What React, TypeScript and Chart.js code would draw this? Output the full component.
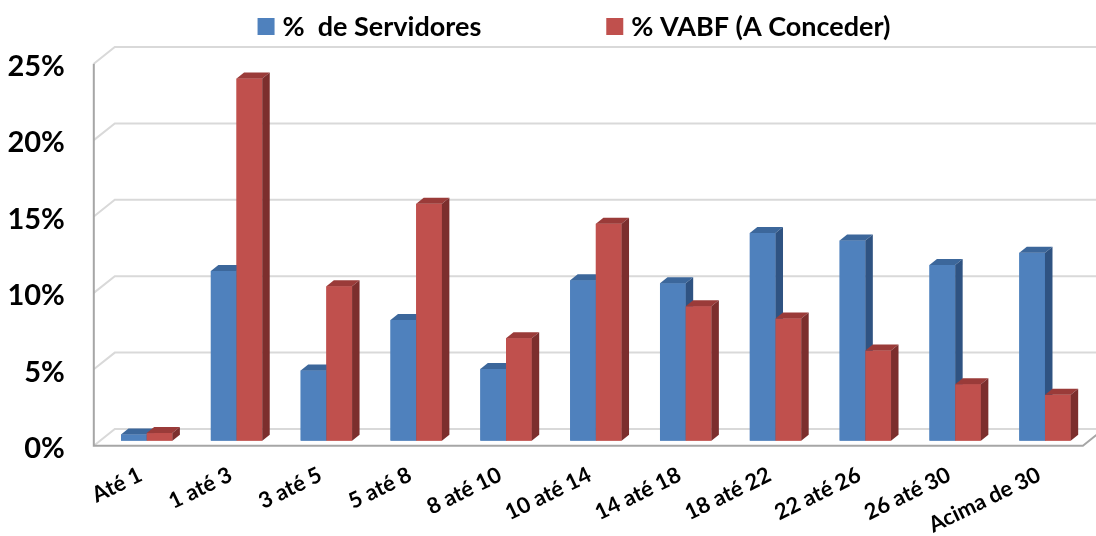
import React, { useEffect, useRef } from "react";
import { Chart, registerables } from "chart.js";

Chart.register(...registerables);

const categories = [
  "Até 1",
  "1 até 3",
  "3 até 5",
  "5 até 8",
  "8 até 10",
  "10 até 14",
  "14 até 18",
  "18 até 22",
  "22 até 26",
  "26 até 30",
  "Acima de 30",
];
const servidores = [0.4, 11.1, 4.6, 7.9, 4.7, 10.5, 10.3, 13.6, 13.1, 11.5, 12.3];
const vabf = [0.5, 23.7, 10.1, 15.5, 6.7, 14.2, 8.8, 8.0, 5.9, 3.7, 3.0];
const yTicks = [0, 5, 10, 15, 20, 25];
const seriesLabels = ["%  de Servidores", "% VABF (A Conceder)"];

const FONT = "Lato, 'Open Sans', sans-serif";

const faces = [
  { front: "#4F81BD", top: "#3C679B", side: "#2F5382" },
  { front: "#C0504D", top: "#9A3B39", side: "#7C2E2D" },
];

const BAR_DX = 7.5;
const BAR_DY = 6;
const WALL_DX = 21;
const FRONT_OFF = 5;
const BACK_OFF = 11.7;

const framePlugin = {
  id: "frame3d",
  beforeDatasetsDraw(chart: any) {
    const { ctx, chartArea } = chart;
    const y = chart.scales.y;
    const wallX = chartArea.left - 8;
    const backX = wallX + WALL_DX;
    const floorRight = chartArea.right - 7;
    ctx.save();
    ctx.lineWidth = 2;
    ctx.strokeStyle = "#d9d9d9";
    y.ticks.forEach((t: any) => {
      const py = y.getPixelForValue(t.value);
      ctx.beginPath();
      ctx.moveTo(wallX, py + FRONT_OFF);
      ctx.lineTo(backX, py - BACK_OFF);
      ctx.lineTo(chart.width, py - BACK_OFF);
      ctx.stroke();
    });
    const p0 = y.getPixelForValue(0);
    const pTop = y.getPixelForValue(y.max);
    ctx.strokeStyle = "#a6a6a6";
    ctx.beginPath();
    ctx.moveTo(wallX, pTop + FRONT_OFF);
    ctx.lineTo(wallX, p0 + FRONT_OFF);
    ctx.lineTo(floorRight, p0 + FRONT_OFF);
    ctx.lineTo(floorRight + WALL_DX, p0 + FRONT_OFF - (FRONT_OFF + BACK_OFF));
    ctx.stroke();
    ctx.restore();
  },
  afterDatasetsDraw(chart: any) {
    const { ctx } = chart;
    const n = chart.data.labels.length;
    ctx.save();
    for (let i = 0; i < n; i++) {
      chart.data.datasets.forEach((_ds: any, di: number) => {
        const meta = chart.getDatasetMeta(di);
        const el = meta.data[i];
        if (!el) return;
        const { x, y: top, base, width } = el.getProps(["x", "y", "base", "width"], true);
        const x0 = x - width / 2;
        const x1 = x + width / 2;
        const f = faces[di];
        ctx.fillStyle = f.front;
        ctx.fillRect(x0, top, width, base - top);
        ctx.fillStyle = f.top;
        ctx.beginPath();
        ctx.moveTo(x0, top);
        ctx.lineTo(x1, top);
        ctx.lineTo(x1 + BAR_DX, top - BAR_DY);
        ctx.lineTo(x0 + BAR_DX, top - BAR_DY);
        ctx.closePath();
        ctx.fill();
        ctx.fillStyle = f.side;
        ctx.beginPath();
        ctx.moveTo(x1, top);
        ctx.lineTo(x1 + BAR_DX, top - BAR_DY);
        ctx.lineTo(x1 + BAR_DX, base - BAR_DY);
        ctx.lineTo(x1, base);
        ctx.closePath();
        ctx.fill();
      });
    }
    ctx.restore();
  },
};

const legendPlugin = {
  id: "customLegend",
  afterDraw(chart: any) {
    const { ctx } = chart;
    ctx.save();
    ctx.font = `bold 27px ${FONT}`;
    ctx.textBaseline = "middle";
    ctx.textAlign = "left";
    const box = 17;
    const gapText = 8;
    const gapItem = 125;
    const items = chart.data.datasets.map((ds: any, i: number) => ({
      label: ds.label,
      color: faces[i].front,
      w: ctx.measureText(ds.label).width,
    }));
    const total =
      items.reduce((s: number, it: any) => s + box + gapText + it.w, 0) + gapItem * (items.length - 1);
    let x = 574 - total / 2;
    const cy = 26.5;
    items.forEach((it: any) => {
      ctx.fillStyle = it.color;
      ctx.fillRect(x, cy - box / 2, box, box);
      ctx.fillStyle = "#000";
      ctx.fillText(it.label, x + box + gapText, cy + 1);
      x += box + gapText + it.w + gapItem;
    });
    ctx.restore();
  },
};

export default function App() {
  const ref = useRef<HTMLCanvasElement | null>(null);
  useEffect(() => {
    if (!ref.current) return;
    const chart = new Chart(ref.current, {
      type: "bar",
      data: {
        labels: categories,
        datasets: [
          { label: seriesLabels[0], data: servidores, backgroundColor: faces[0].front },
          { label: seriesLabels[1], data: vabf, backgroundColor: faces[1].front },
        ],
      },
      options: {
        responsive: false,
        animation: false,
        layout: { padding: { top: 58.7, right: 6.1, left: 0, bottom: 0 } },
        datasets: { bar: { categoryPercentage: 0.572, barPercentage: 1 } } as any,
        plugins: {
          legend: { display: false },
          tooltip: { enabled: false },
        },
        scales: {
          x: {
            grid: { display: false },
            border: { display: false },
            afterFit: (s: any) => {
              s.height = 95.3;
            },
            ticks: {
              autoSkip: false,
              minRotation: 26,
              maxRotation: 26,
              padding: 13,
              labelOffset: -6,
              color: "#000",
              font: { family: FONT, size: 22, weight: "bold" },
            },
          },
          y: {
            min: 0,
            max: 25,
            grid: { display: false },
            border: { display: false },
            afterFit: (s: any) => {
              s.width = 101.8;
            },
            afterBuildTicks: (s: any) => {
              s.ticks = yTicks.map((v) => ({ value: v }));
            },
            ticks: {
              padding: 29,
              labelOffset: 8,
              color: "#000",
              font: { family: FONT, size: 29, weight: "bold" },
              callback: (v: any) => `${v}%`,
            },
          },
        },
      },
      plugins: [framePlugin, legendPlugin],
    });
    return () => chart.destroy();
  }, []);
  return (
    <div style={{ position: "absolute", left: 0, top: 0, width: 1096, height: 536, background: "#fff" }}>
      <canvas ref={ref} width={1096} height={536} />
    </div>
  );
}
